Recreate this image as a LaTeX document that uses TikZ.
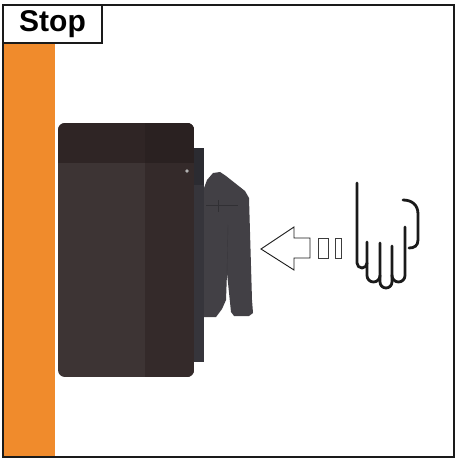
\documentclass[tikz,border=0pt]{standalone}
\usepackage{fontspec}
\newfontfamily\labelfont{Liberation Sans}
\definecolor{wallorange}{RGB}{240,139,44}
\definecolor{bodytop}{RGB}{47,37,37}
\definecolor{bodymain}{RGB}{61,52,52}
\definecolor{bodyside}{RGB}{52,42,42}
\definecolor{platetop}{RGB}{43,43,49}
\definecolor{plategray}{RGB}{54,53,59}
\definecolor{levergray}{RGB}{66,64,69}
\definecolor{inkline}{RGB}{26,26,26}
\tikzset{
  frameline/.style={draw=inkline,line width=2.4pt},
  titlebox/.style={draw=inkline,line width=2pt,fill=white,minimum width=99pt,minimum height=38pt,inner sep=0pt,
    font=\labelfont\bfseries\fontsize{30}{30}\selectfont},
  pusharrow/.style={draw=inkline,line width=0.9pt,fill=white,line join=miter},
  dashbox/.style={draw=inkline!85,line width=0.9pt,fill=white},
  handline/.style={draw=inkline,line width=2.8pt,line cap=round,line join=round}
}
\begin{document}
\begin{tikzpicture}[x=1pt,y=-1pt]
\useasboundingbox (0,0) rectangle (460,462);
\fill[white] (0,0) rectangle (460,462);

% wall
\fill[wallorange] (3,43) rectangle (55,457);

% mounting plate behind the lever
\fill[plategray] (190,148) rectangle (204,362);
\fill[platetop] (190,148) rectangle (204,185);

% switch body
\begin{scope}
  \clip[rounded corners=7pt] (58,123) rectangle (194,377);
  \fill[bodymain] (58,123) rectangle (194,377);
  \fill[bodyside] (145,123) rectangle (194,377);
  \fill[bodytop] (58,123) rectangle (194,163);
  \fill[bodytop!90!black] (145,123) rectangle (194,163);
\end{scope}
\fill[gray!60] (187,171) circle (1.8);

% lever
\fill[levergray] (204,188) -- (207,180) -- (213,173) -- (220,172) -- (226,176)
  -- (245,191) -- (249,198) -- (252,300) -- (253,313) -- (249,316) -- (234,316)
  -- (231,312) -- (227,273) -- (226,300) -- (222,309) -- (216,317) -- (204,317) -- cycle;
\draw[levergray!75!black,line width=0.5pt] (206,205) -- (238,205);
\draw[levergray!75!black,line width=0.5pt] (218,200) -- (218,212);
\draw[levergray!85!black,line width=0.4pt] (227,273) -- (228,225);

% push arrow
\draw[pusharrow] (261,249) -- (294,227) -- (294,238) -- (310,238) -- (310,258)
  -- (294,258) -- (294,270) -- cycle;
\node[dashbox,minimum width=10pt,minimum height=20pt,inner sep=0pt] (d1) at (323,248) {};
\node[dashbox,minimum width=6pt,minimum height=20pt,inner sep=0pt] (d2) at (338,248) {};

% hand
\draw[handline] (357,183) -- (357,263) arc[start angle=180,end angle=0,radius=5] -- (367,242);
\draw[handline] (367,263) -- (367,275.5) arc[start angle=180,end angle=0,radius=6.5] -- (380,243);
\draw[handline] (380,275.5) -- (380,282) arc[start angle=180,end angle=0,radius=6] -- (392,246);
\draw[handline] (392,275) -- (392,275.5) arc[start angle=180,end angle=0,radius=6.5] -- (405,227);
\draw[handline] (403,200) .. controls (412,200) and (418,205) .. (418,214) -- (418,240)
  .. controls (418,246) and (414,248) .. (409,248);

% title
\node[titlebox] (title) at (52.5,24) {Stop};

% outer frame
\draw[frameline] (3,5) rectangle (454,457);
\end{tikzpicture}
\end{document}
